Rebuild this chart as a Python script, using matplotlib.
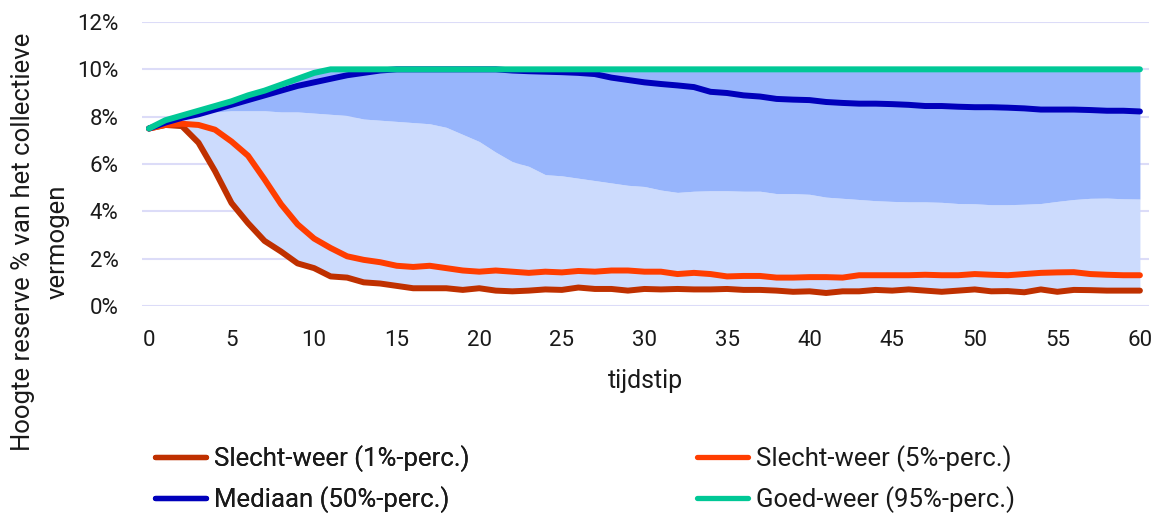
import matplotlib.pyplot as plt
from matplotlib.lines import Line2D
from matplotlib.ticker import FuncFormatter
import numpy as np

# tijdstip 0..60
tijdstip = list(range(61))

p1 = [7.5, 7.65, 7.6, 6.9, 5.7, 4.35, 3.5, 2.75, 2.3, 1.8,
      1.6, 1.25, 1.2, 1.0, 0.95, 0.85, 0.75, 0.75, 0.75, 0.68,
      0.75, 0.65, 0.62, 0.65, 0.7, 0.68, 0.78, 0.72, 0.72, 0.65,
      0.72, 0.7, 0.72, 0.7, 0.7, 0.72, 0.68, 0.68, 0.65, 0.6,
      0.62, 0.55, 0.62, 0.62, 0.68, 0.65, 0.7, 0.65, 0.6, 0.65,
      0.7, 0.62, 0.63, 0.58, 0.7, 0.6, 0.68, 0.67, 0.65, 0.65,
      0.65]

p5 = [7.5, 7.65, 7.7, 7.65, 7.45, 6.95, 6.35, 5.35, 4.3, 3.45,
      2.85, 2.45, 2.1, 1.95, 1.85, 1.7, 1.65, 1.7, 1.6, 1.5,
      1.45, 1.5, 1.45, 1.4, 1.45, 1.42, 1.48, 1.45, 1.5, 1.5,
      1.45, 1.45, 1.35, 1.4, 1.35, 1.25, 1.27, 1.27, 1.2, 1.2,
      1.22, 1.22, 1.2, 1.3, 1.3, 1.3, 1.3, 1.32, 1.3, 1.3,
      1.35, 1.32, 1.3, 1.35, 1.4, 1.42, 1.43, 1.35, 1.32, 1.3,
      1.3]

# grens tussen lichte en donkere band
pmid = [7.5, 7.75, 7.95, 8.1, 8.2, 8.25, 8.25, 8.25, 8.2, 8.2,
        8.15, 8.1, 8.05, 7.9, 7.85, 7.8, 7.75, 7.7, 7.55, 7.25,
        6.95, 6.5, 6.1, 5.9, 5.55, 5.5, 5.4, 5.3, 5.2, 5.1,
        5.05, 4.9, 4.8, 4.85, 4.87, 4.87, 4.85, 4.85, 4.75, 4.75,
        4.72, 4.6, 4.55, 4.5, 4.45, 4.42, 4.4, 4.4, 4.38, 4.33,
        4.32, 4.28, 4.28, 4.3, 4.33, 4.42, 4.5, 4.55, 4.56, 4.53,
        4.52]

p50 = [7.5, 7.75, 7.95, 8.1, 8.3, 8.5, 8.7, 8.9, 9.1, 9.3,
       9.45, 9.6, 9.75, 9.85, 9.95, 10.0, 10.0, 10.0, 10.0, 10.0,
       10.0, 10.0, 9.95, 9.92, 9.9, 9.88, 9.85, 9.8, 9.65, 9.55,
       9.45, 9.38, 9.32, 9.25, 9.05, 9.0, 8.9, 8.85, 8.75, 8.72,
       8.7, 8.62, 8.58, 8.55, 8.55, 8.53, 8.5, 8.45, 8.45, 8.42,
       8.4, 8.4, 8.38, 8.35, 8.3, 8.3, 8.3, 8.28, 8.25, 8.25,
       8.22]

p95 = [7.5, 7.85, 8.05, 8.25, 8.45, 8.65, 8.9, 9.1, 9.35, 9.6,
       9.85] + [10.0] * 50

labels = ["Slecht-weer (1%-perc.)", "Slecht-weer (5%-perc.)",
          "Mediaan (50%-perc.)", "Goed-weer (95%-perc.)"]
kleuren = ["#BF3000", "#FF3D00", "#0000BB", "#00C896"]

plt.rcParams['font.family'] = ['Roboto', 'DejaVu Sans']
tekst = "#1a1a1a"

fig = plt.figure(figsize=(11.65, 5.13), dpi=100)
ax = fig.add_axes([142/1165, 1-306/513, (1149-142)/1165, (306-22)/513])
ax.set_axisbelow(True)

t = np.array(tijdstip)
ax.fill_between(t, p1, pmid, color="#CCDBFD", lw=0, zorder=1)
ax.fill_between(t, pmid, p95, color="#97B5FC", lw=0, zorder=1)

lijnen = [p1, p5, p50, p95]
for i, (serie, kleur) in enumerate(zip(lijnen, kleuren)):
    ax.plot(t, serie, color=kleur, lw=4.3, solid_capstyle='round',
            solid_joinstyle='round', zorder=3 + i)

ax.set_xlim(-0.42, 60.55)
ax.set_ylim(0, 12)
ax.set_xticks(range(0, 61, 5))
ax.set_yticks(range(0, 13, 2))
ax.yaxis.set_major_formatter(FuncFormatter(lambda v, p: f"{int(v)}%"))
ax.tick_params(length=0, labelsize=16, labelcolor=tekst)
ax.tick_params(axis='x', pad=17)
ax.tick_params(axis='y', pad=17)
ax.grid(axis='y', color="#DCDCF8", lw=1.5)
for s in ax.spines.values():
    s.set_visible(False)

ax.set_xlabel("tijdstip", fontsize=18, color=tekst, labelpad=13)
fig.text(40/1165, 1-242/513, "Hoogte reserve % van het collectieve\nvermogen",
         rotation=90, ha='center', va='center', fontsize=18.5, color=tekst,
         linespacing=1.55, multialignment='center')

handles = [Line2D([], [], color=k, lw=3.8, solid_capstyle='round') for k in kleuren]
opties = dict(loc='upper left', frameon=False, fontsize=18.5, handlelength=2.0,
              handletextpad=0.3, labelspacing=0.55, borderpad=0,
              borderaxespad=0, labelcolor=tekst)
leg1 = fig.legend([handles[0], handles[2]], [labels[0], labels[2]],
                  bbox_to_anchor=(155/1165, 1-445/513), **opties)
leg2 = fig.legend([handles[1], handles[3]], [labels[1], labels[3]],
                  bbox_to_anchor=(697/1165, 1-445/513), **opties)
fig.add_artist(leg1)

fig.savefig("out.png", dpi=100)
